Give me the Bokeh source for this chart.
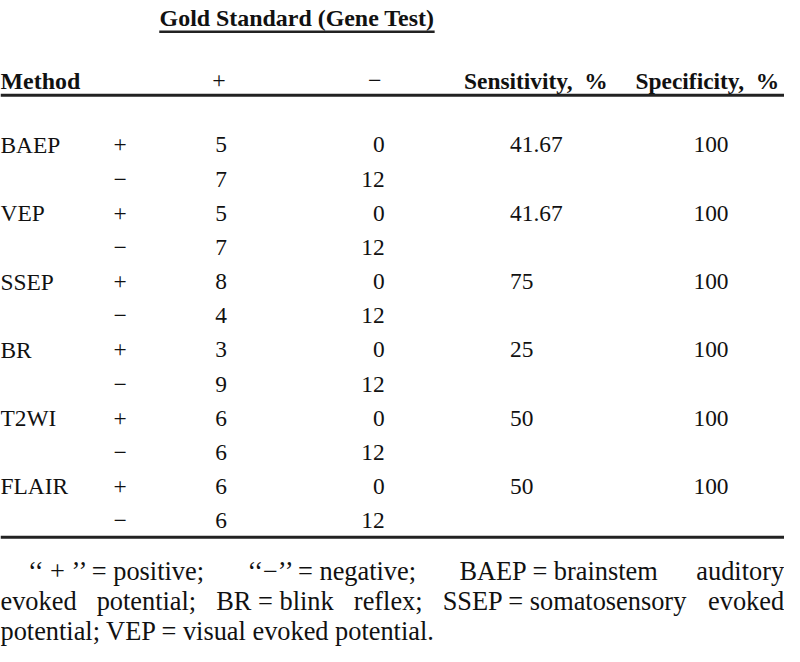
from bokeh.plotting import figure
from bokeh.models import Range1d
from bokeh.core.properties import value
from bokeh.embed import file_html
from bokeh.resources import INLINE

# ---------------- data ----------------
methods = ["BAEP", "VEP", "SSEP", "BR", "T2WI", "FLAIR"]
test_pos_gold_pos = [5, 5, 8, 3, 6, 6]
test_pos_gold_neg = [0, 0, 0, 0, 0, 0]
test_neg_gold_pos = [7, 7, 4, 9, 6, 6]
test_neg_gold_neg = [12, 12, 12, 12, 12, 12]
sensitivity = ["41.67", "41.67", "75", "25", "50", "50"]
specificity = ["100", "100", "100", "100", "100", "100"]

span_header = "Gold Standard (Gene Test)"
col_headers = ["Method", "+", "\u2212", "Sensitivity,\u00a0\u00a0%", "Specificity,\u00a0\u00a0%"]
signs = ["+", "\u2212"]

# footnote: justified lines, as units separated by stretchable gaps
footnote_line1 = ["\u2018\u2018 + \u2019\u2019 = positive;", "\u2018\u2018\u2212\u2019\u2019 = negative;",
                  "BAEP = brainstem", "auditory"]
footnote_line2 = ["evoked", "potential;", "BR = blink", "reflex;", "SSEP = somatosensory", "evoked"]
footnote_line3 = ["potential; VEP = visual evoked potential."]

# ---------------- layout / style ----------------
S = 646 / 662                 # page scale so the 800x662 design fits inside the 8px margin
FONT = "Liberation Serif"
INK = "#111111"
BODY = 24
HEAD = 24.5
HEAD_R = 24
FOOT = 27

X_METHOD = 0
X_SIGN = 122
X_GPOS = 225
X_GNEG = 392
X_SENS = 520
X_SPEC = 725
X_SENS_H = 473
X_SPEC_H = 648

Y_SPAN = 18
Y_SPAN_RULE = 32
Y_HEAD = 82
Y_HEAD_RULE = 97
ROW0 = 148
ROW_STEP = 35
Y_BOTTOM_RULE = 550
FOOT_Y = [585, 616, 647]
FOOT_INDENT = 28
RIGHT_EDGE = 800

# Times / Liberation Serif advance widths (em) for justification
W = {" ": .25, ";": .278, ".": .25, "=": .564, "+": .564, "\u2212": .564,
     "\u2018": .333, "\u2019": .333,
     "a": .444, "b": .5, "c": .444, "d": .5, "e": .444, "f": .333, "g": .5, "h": .5,
     "i": .278, "j": .278, "k": .5, "l": .278, "m": .778, "n": .5, "o": .5, "p": .5,
     "q": .5, "r": .333, "s": .389, "t": .278, "u": .5, "v": .5, "w": .722, "x": .5,
     "y": .5, "z": .444, "A": .722, "B": .667, "E": .611, "P": .556, "R": .667,
     "S": .556, "V": .722}


def width(s, size):
    return sum(W.get(c, .5) for c in s) * size


def justify(units, left, right, size):
    ws = [width(u, size) for u in units]
    gap = (right - left - sum(ws)) / (len(units) - 1) if len(units) > 1 else 0
    xs, x = [], left
    for w_ in ws:
        xs.append(x)
        x += w_ + gap
    return xs


p = figure(width=784, height=646, x_range=Range1d(0, 800), y_range=Range1d(662, 0),
           output_backend="svg", toolbar_location=None, min_border=0,
           x_axis_location=None, y_axis_location=None)
p.grid.visible = False
p.outline_line_color = None
p.background_fill_color = "white"
p.border_fill_color = "white"


def txt(xs, ys, texts, align, size, bold=False):
    p.text(x=xs, y=ys, text=texts, text_align=align, text_baseline="alphabetic",
           text_font=value(FONT), text_font_size=f"{size * S:.2f}px",
           text_font_style="bold" if bold else "normal", text_color=INK)


# headers
txt([(162 + 443) / 2], [Y_SPAN], [span_header], "center", HEAD, True)
txt([X_METHOD], [Y_HEAD], [col_headers[0]], "left", HEAD, True)
txt([223, 382], [Y_HEAD, Y_HEAD], col_headers[1:3], "center", HEAD, False)
txt([X_SENS_H, X_SPEC_H], [Y_HEAD, Y_HEAD], col_headers[3:5], "left", HEAD_R, True)

# rules
p.segment(x0=[162], y0=[Y_SPAN_RULE], x1=[443], y1=[Y_SPAN_RULE], line_color="#222222", line_width=2.5)
p.segment(x0=[0, 0], y0=[Y_HEAD_RULE, Y_BOTTOM_RULE], x1=[800, 800], y1=[Y_HEAD_RULE, Y_BOTTOM_RULE],
          line_color="#222222", line_width=3)

# body rows
n = len(methods)
y_pos = [ROW0 + 2 * i * ROW_STEP for i in range(n)]
y_neg = [ROW0 + (2 * i + 1) * ROW_STEP for i in range(n)]

txt([X_METHOD] * n, y_pos, methods, "left", BODY)
txt([X_SIGN] * (2 * n), y_pos + y_neg, [signs[0]] * n + [signs[1]] * n, "center", BODY)
txt([X_GPOS] * (2 * n), y_pos + y_neg,
    [str(v) for v in test_pos_gold_pos] + [str(v) for v in test_neg_gold_pos], "center", BODY)
txt([X_GNEG] * (2 * n), y_pos + y_neg,
    [str(v) for v in test_pos_gold_neg] + [str(v) for v in test_neg_gold_neg], "right", BODY)
txt([X_SENS] * n, y_pos, sensitivity, "left", BODY)
txt([X_SPEC] * n, y_pos, specificity, "center", BODY)

# footnote
x1 = justify(footnote_line1, FOOT_INDENT, RIGHT_EDGE, FOOT)
x2 = justify(footnote_line2, 0, RIGHT_EDGE, FOOT)
txt(x1, [FOOT_Y[0]] * len(x1), footnote_line1, "left", FOOT)
txt(x2, [FOOT_Y[1]] * len(x2), footnote_line2, "left", FOOT)
txt([0], [FOOT_Y[2]], footnote_line3, "left", FOOT)

open("out.html", "w").write(file_html(p, INLINE))
